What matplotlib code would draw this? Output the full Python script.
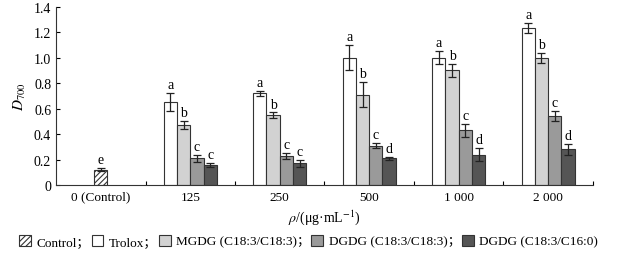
import matplotlib.pyplot as plt
import matplotlib
import numpy as np
from matplotlib.patches import Patch

matplotlib.rcParams['font.family'] = ['Liberation Serif', 'Noto Sans CJK SC']
matplotlib.rcParams['mathtext.fontset'] = 'stix'
matplotlib.rcParams['hatch.linewidth'] = 0.8

# ---------------- data ----------------
groups = ['0 (Control)', '125', '250', '500', '1 000', '2 000']
series = ['Trolox', 'MGDG (C18:3/C18:3)', 'DGDG (C18:3/C18:3)', 'DGDG (C18:3/C16:0)']
colors = ['#ffffff', '#d2d2d2', '#9a9a9a', '#555555']

control_val = 0.12
control_err = 0.012
control_letter = 'e'

# values for groups 125 .. 2000, one list per series
trolox = [0.65, 0.72, 1.00, 1.00, 1.23]
mgdg = [0.47, 0.55, 0.71, 0.90, 1.00]
dgdg1 = [0.21, 0.23, 0.31, 0.43, 0.54]
dgdg2 = [0.16, 0.17, 0.21, 0.24, 0.28]

trolox_err = [0.07, 0.02, 0.10, 0.05, 0.04]
mgdg_err = [0.03, 0.02, 0.10, 0.05, 0.04]
dgdg1_err = [0.025, 0.026, 0.02, 0.05, 0.04]
dgdg2_err = [0.016, 0.03, 0.01, 0.05, 0.04]

letters = [
    ['a', 'a', 'a', 'a', 'a'],
    ['b', 'b', 'b', 'b', 'b'],
    ['c', 'c', 'c', 'c', 'c'],
    ['c', 'c', 'd', 'd', 'd'],
]

values = [trolox, mgdg, dgdg1, dgdg2]
errors = [trolox_err, mgdg_err, dgdg1_err, dgdg2_err]

# ---------------- plot ----------------
fig = plt.figure(figsize=(6.3, 2.55), dpi=100)
ax = fig.add_axes([0.089, 0.27, 0.852, 0.70])

edge = '#333333'
w = 0.148
x = np.arange(1, len(groups))

ax.bar(0, control_val, w, color='white', edgecolor=edge, linewidth=0.8, hatch='//////')
ax.errorbar(0, control_val, yerr=control_err, fmt='none', ecolor='#222222',
            elinewidth=0.9, capsize=3, capthick=0.9)
ax.text(0, control_val + control_err + 0.015, control_letter, ha='center', va='bottom', fontsize=10)

for i, (vals, errs, col) in enumerate(zip(values, errors, colors)):
    xs = x + (i - 1.5) * w
    ax.bar(xs, vals, w, color=col, edgecolor=edge, linewidth=0.8)
    ax.errorbar(xs, vals, yerr=errs, fmt='none', ecolor='#222222',
                elinewidth=0.9, capsize=3, capthick=0.9)
    for xx, v, e, l in zip(xs, vals, errs, letters[i]):
        ax.text(xx, v + e + 0.015, l, ha='center', va='bottom', fontsize=10)

ax.set_xlim(-0.5, len(groups) - 0.5)
ax.set_ylim(0, 1.4)
ax.set_yticks(np.arange(0, 1.41, 0.2))
ax.set_yticklabels(['0'] + [f'{t:.1f}' for t in np.arange(0.2, 1.41, 0.2)])
ax.set_xticks(np.arange(len(groups)))
ax.set_xticklabels(groups)
ax.set_xticks(np.arange(len(groups)) + 0.5, minor=True)
ax.tick_params(axis='x', which='major', length=0, labelsize=9.5, pad=4)
ax.tick_params(axis='x', which='minor', direction='in', length=3, width=0.8)
ax.tick_params(axis='y', direction='in', length=3, width=0.8, labelsize=10)
for s in ['top', 'right']:
    ax.spines[s].set_visible(False)
for s in ['left', 'bottom']:
    ax.spines[s].set_linewidth(0.8)
    ax.spines[s].set_color('#333333')

ax.set_ylabel(r'$D_{700}$', fontsize=11, labelpad=4)
ax.set_xlabel(r'$\rho$/(μg·mL$^{-1}$)', fontsize=10, labelpad=3)

handles = [Patch(facecolor='white', edgecolor=edge, hatch='//////', linewidth=0.8)]
handles += [Patch(facecolor=c, edgecolor=edge, linewidth=0.8) for c in colors]
labels = ['Control；', 'Trolox；'] + [s + '；' for s in series[1:3]] + [series[3]]
fig.legend(handles, labels, loc='center', bbox_to_anchor=(0.49, 0.05), ncol=5,
           frameon=False, fontsize=9.5, handlelength=0.9, handleheight=0.9,
           handletextpad=0.4, columnspacing=0.1)

plt.savefig('out.png', dpi=100)
